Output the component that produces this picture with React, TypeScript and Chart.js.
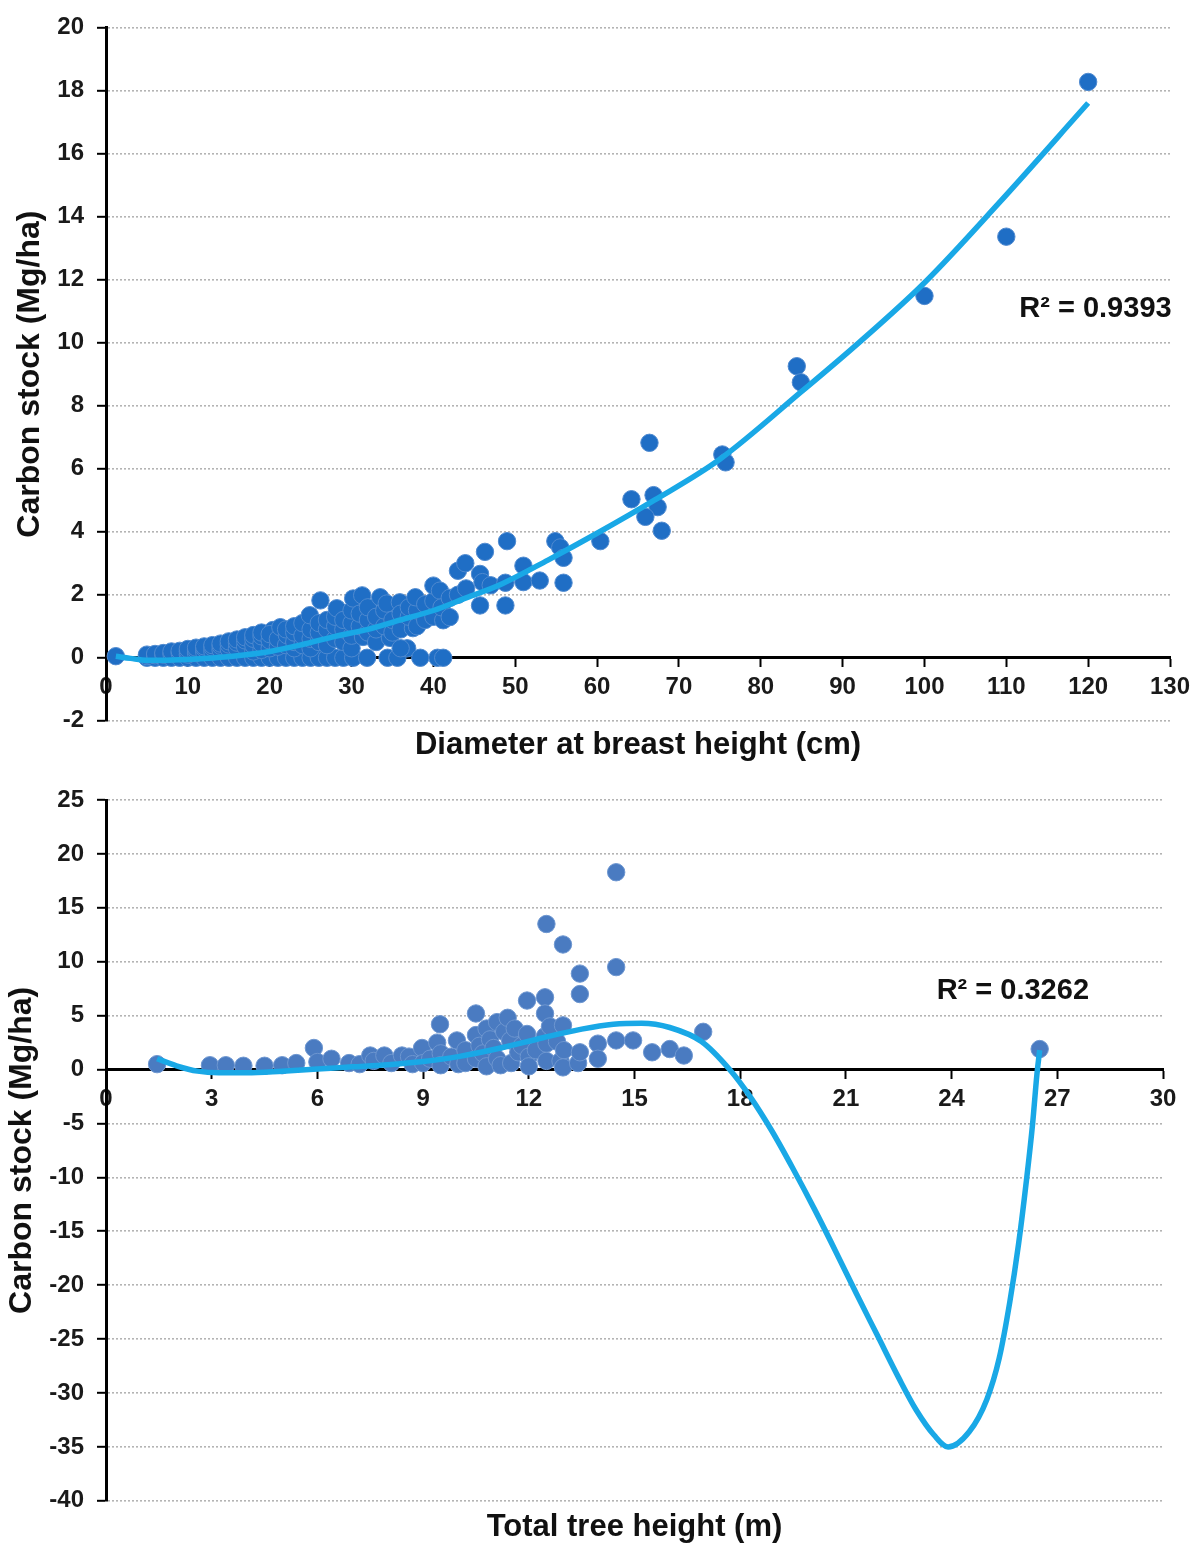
import React, { useEffect, useRef } from "react";
import { Chart, registerables } from "chart.js";

Chart.register(...registerables);

// ---------- Data: top chart (DBH vs carbon stock) ----------
const dbhTicksStep = 10;
const dbhRange = [0, 130];
const carbonTopRange = [-2, 20];
const carbonTopStep = 2;

const dbhZeroRow: [number, number][] = [
  [1.2, 0.05], [5, 0], [6, 0], [7, 0], [8, 0], [9, 0], [10, 0], [11, 0], [12, 0], [13, 0],
  [14, 0], [15, 0], [16, 0], [17, 0], [18, 0], [19, 0], [20, 0], [21, 0], [22, 0], [23, 0],
  [24, 0], [25, 0], [26, 0], [27, 0], [28, 0], [29, 0], [30.2, 0], [31.9, 0], [34.4, 0],
  [35.6, 0], [36.8, 0.3], [38.4, 0], [40.5, 0], [41.2, 0],
];

const dbhCluster: [number, number][] = [
  [5, 0.05], [5, 0.1], [6, 0.08], [6, 0.12], [7, 0.1], [7, 0.15], [8, 0.12], [8, 0.2],
  [9, 0.15], [9, 0.22], [10, 0.1], [10, 0.2], [10, 0.28], [11, 0.15], [11, 0.25], [11, 0.32],
  [12, 0.18], [12, 0.3], [12, 0.36], [13, 0.2], [13, 0.33], [13, 0.4], [14, 0.25], [14, 0.38],
  [14, 0.45], [15, 0.28], [15, 0.42], [15, 0.52], [16, 0.3], [16, 0.48], [16, 0.58],
  [17, 0.35], [17, 0.55], [17, 0.65], [18, 0.2], [18, 0.4], [18, 0.6], [18, 0.72],
  [19, 0.25], [19, 0.45], [19, 0.68], [19, 0.8], [20, 0.3], [20.4, 0.88], [20, 0.55], [20, 0.75],
  [21, 0.35], [21, 0.6], [21.3, 0.97], [22, 0.4], [22.1, 0.72], [22, 0.9], [23, 0.3], [23, 0.5],
  [23, 0.8], [23, 1.0], [24, 0.4], [24, 0.7], [24, 1.1], [25, 0.3], [25, 0.6], [25, 0.9],
  [24.9, 1.35], [26, 0.5], [26, 0.8], [26, 1.1], [26.2, 1.82], [27, 0.4], [27, 0.9], [27, 1.2],
  [28, 0.6], [28, 1.0], [28, 1.3], [28.2, 1.57], [29, 0.5], [29, 0.9], [29, 1.2], [30, 0.3],
  [30, 0.7], [30, 1.1], [30, 1.5], [30.2, 1.88], [31.4, 0.66], [31, 1.0], [31, 1.4], [31.3, 1.98],
  [32, 0.8], [32, 1.2], [32, 1.6], [33, 0.5], [33, 0.9], [33, 1.3], [33.5, 1.92], [34.7, 0.63],
  [34, 1.0], [34, 1.5], [34.3, 1.72], [35, 0.8], [35, 1.2], [35.9, 1.76], [36, 0.3], [36, 0.9],
  [36, 1.4], [37.5, 0.94], [37, 1.3], [37, 1.6], [38, 1.0], [38, 1.5], [37.8, 1.92], [39, 1.2],
  [39, 1.7], [40, 1.3], [40, 1.8], [40, 2.29], [41.2, 1.19], [40.8, 2.13], [41, 1.6], [42, 1.29],
  [42, 1.9], [43, 2.0], [43, 2.76], [44, 2.2], [43.9, 3.0], [45.7, 2.66], [45.7, 1.66],
  [46.3, 3.36], [46, 2.4], [47, 2.3], [48.8, 1.66], [48.8, 2.38], [49, 3.7], [51, 2.92],
  [51, 2.4], [53, 2.45], [54.9, 3.7], [55.5, 3.5], [55.9, 3.17], [55.9, 2.38],
];

const dbhOutliers: [number, number][] = [
  [60.4, 3.7], [64.2, 5.03], [66.4, 6.82], [66.9, 5.16], [67.4, 4.78], [65.9, 4.47], [67.9, 4.03],
  [75.3, 6.45], [75.7, 6.2], [84.4, 9.25], [84.9, 8.74], [100, 11.48], [110, 13.36], [120, 18.27],
];

const dbhTrend: [number, number][] = [
  [1.2, 0.05], [3, -0.02], [5, -0.08], [8, -0.07], [12, -0.02], [15.5, 0.05], [20, 0.2],
  [24, 0.42], [28, 0.68], [32, 0.9], [36, 1.2], [40, 1.5], [44, 1.9], [48, 2.3], [54, 3.1],
  [60, 3.95], [67, 5.0], [75, 6.3], [85, 8.45], [92, 10.0], [100, 11.9], [109, 14.4], [120, 17.6],
];

const topR2 = "R² = 0.9393";

// ---------- Data: bottom chart (height vs carbon stock) ----------
const heightRange = [0, 30];
const heightStep = 3;
const carbonBottomRange = [-40, 25];
const carbonBottomStep = 5;

const heightPoints: [number, number][] = [
  [1.45, 0.5], [2.95, 0.4], [3.4, 0.4], [3.9, 0.35], [4.5, 0.35], [5.0, 0.4], [5.4, 0.6],
  [5.9, 2.0], [6.0, 0.7], [6.4, 1.0], [6.9, 0.6], [7.2, 0.5], [7.5, 1.3], [7.6, 0.8], [7.9, 1.3],
  [8.1, 0.6], [8.4, 1.3], [8.6, 1.2], [8.7, 0.5], [8.97, 2.0], [9.0, 0.6], [9.2, 1.0],
  [9.48, 4.2], [9.4, 2.5], [9.5, 1.5], [9.5, 0.4], [9.8, 1.2], [9.96, 2.7], [10.0, 0.5],
  [10.2, 1.8], [10.2, 0.6], [10.5, 5.2], [10.5, 3.2], [10.5, 1.0], [10.6, 2.2], [10.7, 1.5],
  [10.8, 3.8], [10.8, 0.3], [10.9, 2.8], [11.1, 4.4], [11.0, 2.0], [11.1, 1.0], [11.2, 0.4],
  [11.3, 3.5], [11.4, 4.8], [11.47, 2.7], [11.5, 0.6], [11.6, 3.8], [11.7, 1.6], [11.8, 2.2],
  [11.95, 6.4], [11.95, 3.3], [12.0, 1.2], [12.0, 0.3], [12.2, 1.8], [12.46, 6.7], [12.46, 5.2],
  [12.5, 13.5], [12.46, 3.1], [12.5, 2.4], [12.5, 0.8], [12.6, 4.0], [12.8, 2.6], [12.97, 4.1],
  [12.97, 11.6], [12.9, 0.8], [13.0, 1.8], [12.97, 0.2], [13.45, 8.9], [13.45, 7.0],
  [13.4, 0.6], [13.45, 1.6], [13.96, 2.4], [13.96, 1.0], [14.48, 18.3], [14.48, 9.5],
  [14.48, 2.7], [14.96, 2.7], [15.5, 1.6], [16.0, 1.9], [16.4, 1.3], [16.95, 3.5], [26.5, 1.9],
];

const heightTrend: [number, number][] = [
  [1.45, 1.0], [2.0, 0.35], [2.6, -0.15], [3.2, -0.3], [4.0, -0.3], [5.0, -0.15], [6.0, 0.05],
  [7.0, 0.25], [8.0, 0.45], [9.0, 0.75], [10.0, 1.2], [11.2, 2.0], [12.4, 2.95], [13.5, 3.75],
  [14.4, 4.2], [15.2, 4.3], [16.0, 3.9], [16.9, 2.6], [17.7, 0.0], [18.3, -2.6], [18.9, -5.7],
  [19.5, -9.2], [20.1, -12.9], [20.7, -16.8], [21.3, -20.8], [21.9, -24.7], [22.5, -28.6],
  [23.0, -31.6], [23.5, -33.9], [23.9, -35.0], [24.5, -33.6], [25.0, -30.6], [25.35, -26.8],
  [25.65, -21.6], [25.9, -16.2], [26.12, -10.4], [26.3, -5], [26.42, -0.5], [26.5, 1.8],
];

const bottomR2 = "R² = 0.3262";

const FONT = "'Liberation Sans', Arial, Helvetica, sans-serif";
const TREND_COLOR = "#19a8e6";

const toXY = (arr: [number, number][]) => arr.map(([x, y]) => ({ x, y }));

const r2Plugin = {
  id: "r2label",
  afterDatasetsDraw(chart: any, _args: any, opts: any) {
    if (!opts || !opts.text) return;
    const { ctx, scales } = chart;
    const px = scales.x.getPixelForValue(opts.xValue);
    const py = scales.y.getPixelForValue(opts.yValue);
    ctx.save();
    ctx.font = `bold 29px ${FONT}`;
    ctx.fillStyle = "#111";
    ctx.textAlign = "right";
    ctx.textBaseline = "middle";
    ctx.fillText(opts.text, px, py);
    ctx.restore();
  },
};

function makeOptions(cfg: {
  xMin: number; xMax: number; xStep: number;
  yMin: number; yMax: number; yStep: number;
  xTitle: string; yTitle: string; yTitlePad: number;
  padTop: number; padRight: number; padBottom: number; xTitlePad: number;
  r2: any;
}) {
  const tickFont = { family: FONT, size: 24, weight: "bold" as const };
  return {
    responsive: false,
    animation: false as const,
    events: [] as any[],
    layout: { padding: { top: cfg.padTop, right: cfg.padRight, bottom: cfg.padBottom, left: 0 } },
    plugins: {
      legend: { display: false },
      tooltip: { enabled: false },
      title: {
        display: true,
        text: cfg.xTitle,
        position: "bottom" as const,
        fullSize: false,
        color: "#111",
        font: { family: FONT, size: 31, weight: "bold" as const },
        padding: { top: cfg.xTitlePad, bottom: 0 },
      },
      r2label: cfg.r2,
    },
    scales: {
      x: {
        type: "linear" as const,
        min: cfg.xMin,
        max: cfg.xMax,
        position: { y: 0 } as any,
        ticks: { stepSize: cfg.xStep, color: "#1a1a1a", font: tickFont, padding: 7, maxRotation: 0 },
        grid: { drawOnChartArea: false, drawTicks: true, tickLength: 8, tickColor: "#000", tickWidth: 2 },
        border: { display: true, color: "#000", width: 3 },
      },
      y: {
        type: "linear" as const,
        min: cfg.yMin,
        max: cfg.yMax,
        position: "left" as const,
        afterFit: (scale: any) => { scale.width = 106; },
        ticks: { stepSize: cfg.yStep, color: "#1a1a1a", font: tickFont, padding: 13 },
        grid: {
          color: "#b4b4b4",
          lineWidth: 1.6,
          tickLength: 9,
          tickColor: "#000",
          tickWidth: 2,
          tickBorderDash: [],
        },
        border: { display: true, color: "#000", width: 3, dash: [2, 2] },
        title: {
          display: true,
          text: cfg.yTitle,
          color: "#111",
          font: { family: FONT, size: 32, weight: "bold" as const },
          padding: { top: cfg.yTitlePad, bottom: 0 },
        },
      },
    },
  };
}

function TopChart() {
  const ref = useRef<HTMLCanvasElement | null>(null);
  useEffect(() => {
    if (!ref.current) return;
    const chart = new Chart(ref.current, {
      type: "scatter",
      data: {
        datasets: [
          {
            type: "line",
            data: toXY(dbhTrend),
            borderColor: TREND_COLOR,
            borderWidth: 5.5,
            pointRadius: 0,
            cubicInterpolationMode: "monotone",
            fill: false,
            order: 0,
          } as any,
          {
            data: toXY([...dbhZeroRow, ...dbhCluster, ...dbhOutliers]),
            backgroundColor: "#1f6ec5",
            borderColor: "#4f8ad0",
            borderWidth: 1,
            pointRadius: 8.7,
            order: 1,
          },
        ],
      },
      options: makeOptions({
        xMin: dbhRange[0], xMax: dbhRange[1], xStep: dbhTicksStep,
        yMin: carbonTopRange[0], yMax: carbonTopRange[1], yStep: carbonTopStep,
        xTitle: "Diameter at breast height (cm)",
        yTitle: "Carbon stock (Mg/ha)",
        yTitlePad: 11,
        padTop: 21, padRight: 30, padBottom: 6, xTitlePad: 6,
        r2: { text: topR2, xValue: 130.2, yValue: 11.05 },
      }) as any,
      plugins: [r2Plugin],
    });
    return () => chart.destroy();
  }, []);
  return <canvas ref={ref} width={1200} height={770} style={{ display: "block" }} />;
}

function BottomChart() {
  const ref = useRef<HTMLCanvasElement | null>(null);
  useEffect(() => {
    if (!ref.current) return;
    const chart = new Chart(ref.current, {
      type: "scatter",
      data: {
        datasets: [
          {
            type: "line",
            data: toXY(heightTrend),
            borderColor: TREND_COLOR,
            borderWidth: 5.5,
            pointRadius: 0,
            cubicInterpolationMode: "monotone",
            fill: false,
            order: 0,
          } as any,
          {
            data: toXY(heightPoints),
            backgroundColor: "#4a7bc1",
            borderColor: "#6d96d0",
            borderWidth: 1,
            pointRadius: 8.7,
            order: 1,
          },
        ],
      },
      options: makeOptions({
        xMin: heightRange[0], xMax: heightRange[1], xStep: heightStep,
        yMin: carbonBottomRange[0], yMax: carbonBottomRange[1], yStep: carbonBottomStep,
        xTitle: "Total tree height (m)",
        yTitle: "Carbon stock (Mg/ha)",
        yTitlePad: 3,
        padTop: 30, padRight: 37, padBottom: 0, xTitlePad: 8,
        r2: { text: bottomR2, xValue: 27.9, yValue: 7.3 },
      }) as any,
      plugins: [r2Plugin],
    });
    return () => chart.destroy();
  }, []);
  return <canvas ref={ref} width={1200} height={776} style={{ display: "block" }} />;
}

export default function App() {
  return (
    <div style={{ position: "absolute", left: 0, top: 0, width: 1200, height: 1544, background: "#fff", overflow: "hidden" }}>
      <div style={{ position: "absolute", left: 0, top: 0 }}>
        <TopChart />
      </div>
      <div style={{ position: "absolute", left: 0, top: 770 }}>
        <BottomChart />
      </div>
    </div>
  );
}
